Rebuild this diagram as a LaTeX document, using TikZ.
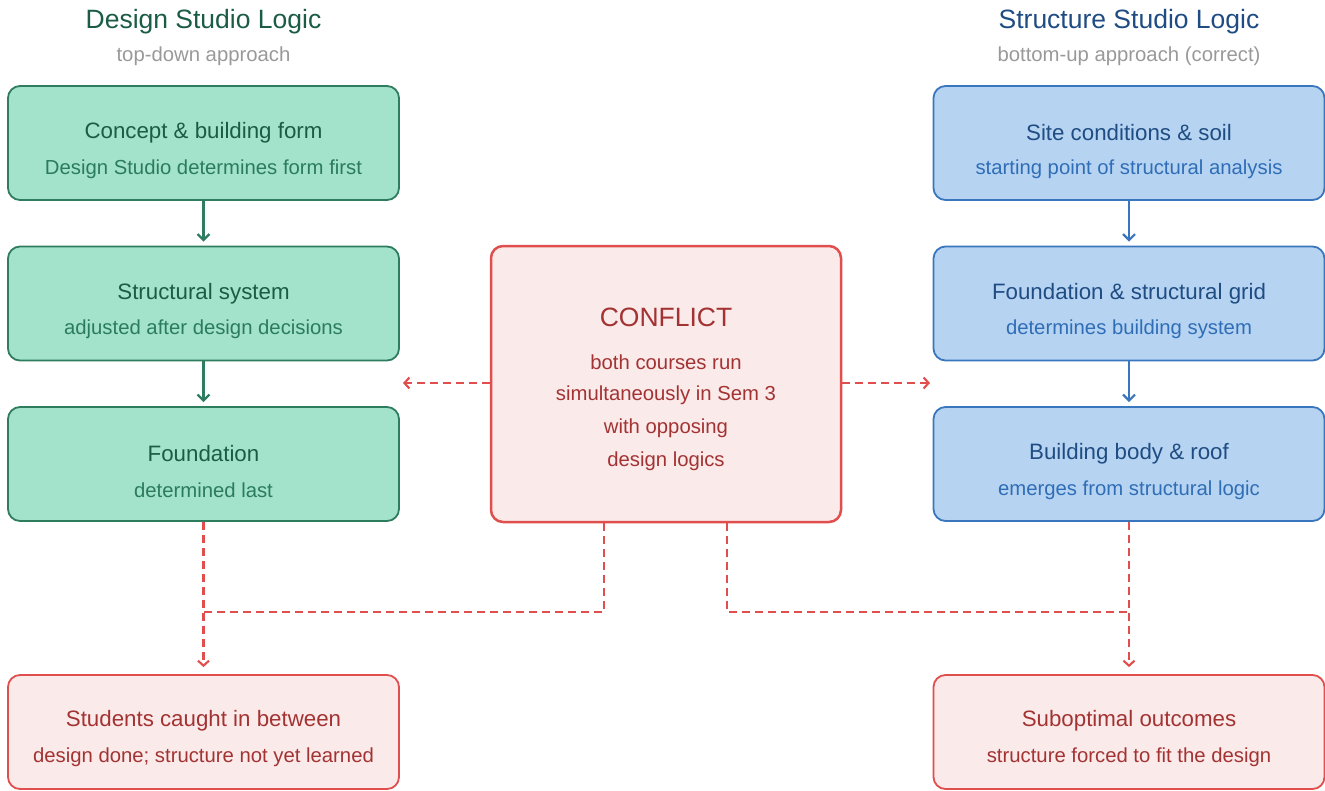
\documentclass[tikz,border=0pt]{standalone}
\usepackage{fontspec}
\setmainfont{Liberation Sans}
\usetikzlibrary{arrows.meta}
\definecolor{gfill}{HTML}{A3E2CB}
\definecolor{gline}{HTML}{2E7D5E}
\definecolor{gtext}{HTML}{1B5C45}
\definecolor{gsub}{HTML}{2A7C5C}
\definecolor{bfill}{HTML}{B6D4F2}
\definecolor{bline}{HTML}{3A76BD}
\definecolor{btext}{HTML}{1F4C82}
\definecolor{bsub}{HTML}{2F6DB6}
\definecolor{rfill}{HTML}{FBEAEA}
\definecolor{rline}{HTML}{E04E4E}
\definecolor{rtext}{HTML}{A33333}
\definecolor{htext}{HTML}{999999}
\begin{document}
\begin{tikzpicture}[x=1pt, y=-1pt,
    box/.style={rounded corners=12pt, line width=1.8pt, minimum width=391pt, minimum height=114pt},
    greenbox/.style={box, draw=gline, fill=gfill},
    bluebox/.style={box, draw=bline, fill=bfill},
    redbox/.style={box, draw=rline, fill=rfill},
    boxtitle/.style={font=\fontsize{22.3}{25}\selectfont},
    boxsub/.style={font=\fontsize{20.3}{23}\selectfont},
    head/.style={font=\fontsize{26.5}{30}\selectfont},
    headsub/.style={font=\fontsize{20.3}{24}\selectfont, text=htext},
    flow/.style={line width=2.2pt, -{Straight Barb[length=6pt,width=12pt]}, shorten >=4pt},
    warn/.style={line width=2.1pt, draw=rline, dash pattern=on 8pt off 5pt},
    warnarrow/.style={warn, -{Straight Barb[length=5pt,width=11pt]}}]
\useasboundingbox (0,0) rectangle (1325,790);
% column headings
\node[head, text=gtext] (ghead) at (203.5,22) {Design Studio Logic};
\node[headsub] (gheadsub) at (203.5,56) {top-down approach};
\node[head, text=btext] (bhead) at (1129,22) {Structure Studio Logic};
\node[headsub] (bheadsub) at (1129,56) {bottom-up approach (correct)};
% design studio column
\foreach \i/\y/\t/\s in {1/143/{Concept \& building form}/{Design Studio determines form first},
    2/303.5/{Structural system}/{adjusted after design decisions},
    3/464/{Foundation}/{determined last}}
{
    \node[greenbox] (g\i) at (203.5,\y) {};
    \node[boxtitle, text=gtext] (g\i t) at (203.5,\y-10) {\t};
    \node[boxsub, text=gsub] (g\i s) at (203.5,\y+26) {\s};
}
% structure studio column
\foreach \i/\y/\t/\s in {1/143/{Site conditions \& soil}/{starting point of structural analysis},
    2/303.5/{Foundation \& structural grid}/{determines building system},
    3/464/{Building body \& roof}/{emerges from structural logic}}
{
    \node[bluebox] (b\i) at (1129,\y) {};
    \node[boxtitle, text=btext] (b\i t) at (1129,\y-10) {\t};
    \node[boxsub, text=bsub] (b\i s) at (1129,\y+26) {\s};
}
% outcomes
\node[redbox] (r1) at (203.5,732) {};
\node[boxtitle, text=rtext] (r1t) at (203.5,721) {Students caught in between};
\node[boxsub, text=rtext] (r1s) at (203.5,757) {design done; structure not yet learned};
\node[redbox] (r2) at (1129,732) {};
\node[boxtitle, text=rtext] (r2t) at (1129,721) {Suboptimal outcomes};
\node[boxsub, text=rtext] (r2s) at (1129,757) {structure forced to fit the design};
% conflict
\node[redbox, line width=2.5pt, minimum width=350pt, minimum height=276pt] (c) at (666,384) {};
\node[font=\fontsize{26.5}{30}\selectfont, text=rtext] (ct) at (666,317) {CONFLICT};
\foreach \k/\l in {0/{both courses run},1/{simultaneously in Sem 3},2/{with opposing},3/{design logics}}
{
    \node[font=\fontsize{20.3}{24}\selectfont, text=rtext] (cl\k) at (666,362+33*\k) {\l};
}
% flow arrows
\draw[flow, draw=gline] (g1) -- (g2);
\draw[flow, draw=gline] (g2) -- (g3);
\draw[flow, draw=bline] (b1) -- (b2);
\draw[flow, draw=bline] (b2) -- (b3);
% conflict links
\coordinate (lefttip) at (403,383);
\coordinate (righttip) at (930,383);
\coordinate (joinl) at (203.5,612);
\coordinate (joinr) at (1129,612);
\draw[warnarrow] (c.west |- lefttip) -- (lefttip);
\draw[warnarrow] (c.east |- righttip) -- (righttip);
\draw[warnarrow, shorten >=7pt] (g3) -- (r1);
\draw[warnarrow, shorten >=7pt] (b3) -- (r2);
\draw[warn] ([xshift=-62pt]c.south) |- (joinl);
\draw[warn] ([xshift=61pt]c.south) |- (joinr);
\end{tikzpicture}
\end{document}
